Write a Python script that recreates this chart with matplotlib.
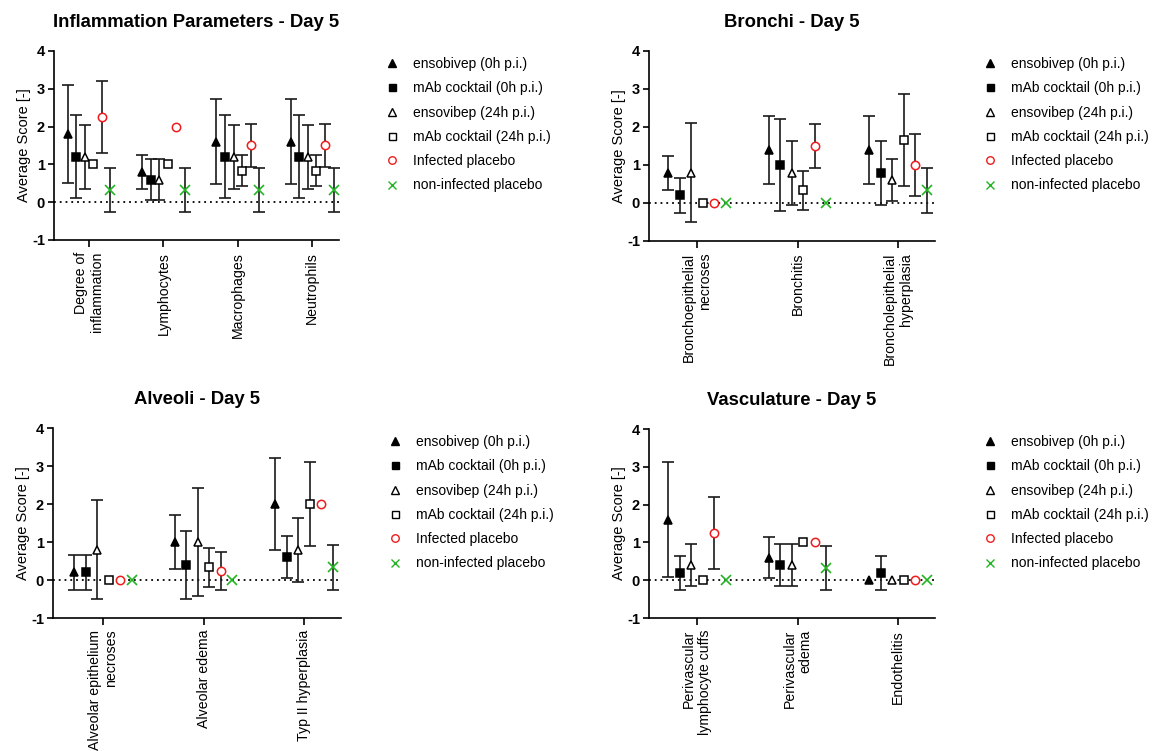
import numpy as np
import matplotlib.pyplot as plt
from matplotlib.lines import Line2D

plt.rcParams["font.family"] = ["Liberation Sans", "DejaVu Sans"]
plt.rcParams["axes.unicode_minus"] = False

nan = np.nan

SERIES = ["ensobivep (0h p.i.)", "mAb cocktail (0h p.i.)", "ensovibep (24h p.i.)",
          "mAb cocktail (24h p.i.)", "Infected placebo", "non-infected placebo"]

# --- Inflammation parameters ---
infl_cats = ["Degree of\ninflammation", "Lymphocytes", "Macrophages", "Neutrophils"]
infl_mean = [
    [1.8, 0.8, 1.6, 1.6],
    [1.2, 0.6, 1.2, 1.2],
    [1.2, 0.6, 1.2, 1.2],
    [1.0, 1.0, 0.83, 0.83],
    [2.25, 2.0, 1.5, 1.5],
    [0.33, 0.33, 0.33, 0.33],
]
infl_sd = [
    [1.3, 0.45, 1.13, 1.13],
    [1.1, 0.55, 1.1, 1.1],
    [0.84, 0.55, 0.84, 0.84],
    [nan, nan, 0.41, 0.41],
    [0.96, nan, 0.58, 0.58],
    [0.58, 0.58, 0.58, 0.58],
]

# --- Bronchi ---
bron_cats = ["Bronchoepithelial\nnecroses", "Bronchitis", "Broncholepithelial\nhyperplasia"]
bron_mean = [
    [0.8, 1.4, 1.4],
    [0.2, 1.0, 0.8],
    [0.8, 0.8, 0.6],
    [0.0, 0.33, 1.67],
    [0.0, 1.5, 1.0],
    [0.0, 0.0, 0.33],
]
bron_sd = [
    [0.45, 0.9, 0.9],
    [0.45, 1.22, 0.84],
    [1.3, 0.84, 0.55],
    [nan, 0.52, 1.21],
    [nan, 0.58, 0.82],
    [nan, nan, 0.58],
]

# --- Alveoli ---
alv_cats = ["Alveolar epithelium\nnecroses", "Alveolar edema", "Typ II hyperplasia"]
alv_mean = [
    [0.2, 1.0, 2.0],
    [0.2, 0.4, 0.6],
    [0.8, 1.0, 0.8],
    [0.0, 0.33, 2.0],
    [0.0, 0.25, 2.0],
    [0.0, 0.0, 0.33],
]
alv_sd = [
    [0.45, 0.71, 1.22],
    [0.45, 0.89, 0.55],
    [1.3, 1.41, 0.84],
    [nan, 0.52, 1.1],
    [nan, 0.5, nan],
    [nan, nan, 0.58],
]

# --- Vasculature ---
vas_cats = ["Perivascular\nlymphocyte cuffs", "Perivascular\nedema", "Endothelitis"]
vas_mean = [
    [1.6, 0.6, 0.0],
    [0.2, 0.4, 0.2],
    [0.4, 0.4, 0.0],
    [0.0, 1.0, 0.0],
    [1.25, 1.0, 0.0],
    [0.0, 0.33, 0.0],
]
vas_sd = [
    [1.52, 0.55, nan],
    [0.45, 0.55, 0.45],
    [0.55, 0.55, nan],
    [nan, nan, nan],
    [0.96, nan, nan],
    [nan, 0.58, nan],
]

# marker styles per series: (marker, edge, face, size)
STYLES = [
    ("^", "black", "black", 6.0),
    ("s", "black", "black", 5.6),
    ("^", "black", "white", 6.0),
    ("s", "black", "white", 5.6),
    ("o", "#ee1c1c", "white", 6.0),
    ("x", "#22b522", "none", 6.5),
]

W, H = 1156, 751
fig = plt.figure(figsize=(W / 100, H / 100), dpi=100)


def px_axes(x0, x1, ytop, ybot):
    return fig.add_axes([x0 / W, 1 - ybot / H, (x1 - x0) / W, (ybot - ytop) / H])


def panel(ax, cats, means, sds, title, xlim, legend_xy):
    x = np.arange(len(cats))
    for i, (m, s) in enumerate(zip(means, sds)):
        mk, ec, fc, ms = STYLES[i]
        off = (i - 2.5) * 0.115
        ax.errorbar(x + off, m, yerr=s, fmt="none", ecolor="#1a1a1a",
                    elinewidth=1.2, capsize=4, capthick=1.2, zorder=2)
        ax.plot(x + off, m, ls="none", marker=mk, mec=ec, mfc=fc, ms=ms,
                mew=1.1 if mk != "x" else 1.2, zorder=3)
    ax.axhline(0, color="black", lw=1.3, ls=(0, (1, 2.2)), zorder=1)
    ax.set_xlim(*xlim)
    ax.set_ylim(-1, 4)
    ax.set_yticks(range(-1, 5))
    for lab in ax.get_yticklabels():
        lab.set_fontweight("bold")
    ax.tick_params(axis="y", labelsize=10.5, length=4.5, width=1.2, pad=2,
                   direction="out")
    ax.set_xticks(x)
    ax.set_xticklabels(cats, rotation=90, fontsize=10.2, multialignment="right")
    ax.tick_params(axis="x", length=5, width=1.2, direction="out")
    ax.spines["top"].set_visible(False)
    ax.spines["right"].set_visible(False)
    ax.spines["left"].set_linewidth(1.2)
    ax.spines["bottom"].set_linewidth(1.2)
    ax.set_ylabel("Average Score [-]", fontsize=10.5, labelpad=1)
    ax.set_title(title, fontsize=13.3, fontweight="bold", pad=17)

    handles = [Line2D([], [], ls="none", marker=mk, mec=ec, mfc=fc, ms=ms * 0.9,
                      mew=1.0) for mk, ec, fc, ms in STYLES]
    ax.legend(handles, SERIES, loc="upper left", frameon=False, fontsize=10,
              bbox_to_anchor=(legend_xy[0] / W, 1 - legend_xy[1] / H),
              bbox_transform=fig.transFigure, borderpad=0, borderaxespad=0,
              handlelength=1.0, handletextpad=1.0, labelspacing=0.74)


ax1 = px_axes(54, 339, 51, 240)
panel(ax1, infl_cats, infl_mean, infl_sd, "Inflammation Parameters - Day 5",
      (-0.47, 3.36), (385, 57))

ax2 = px_axes(649, 935, 51, 241)
panel(ax2, bron_cats, bron_mean, bron_sd, "Bronchi - Day 5",
      (-0.48, 2.37), (983, 57))

ax3 = px_axes(53, 341, 428, 618)
panel(ax3, alv_cats, alv_mean, alv_sd, "Alveoli - Day 5",
      (-0.5, 2.37), (388, 435))

ax4 = px_axes(649, 935, 429, 618)
panel(ax4, vas_cats, vas_mean, vas_sd, "Vasculature - Day 5",
      (-0.48, 2.37), (983, 435))

fig.savefig("out.png", dpi=100)
